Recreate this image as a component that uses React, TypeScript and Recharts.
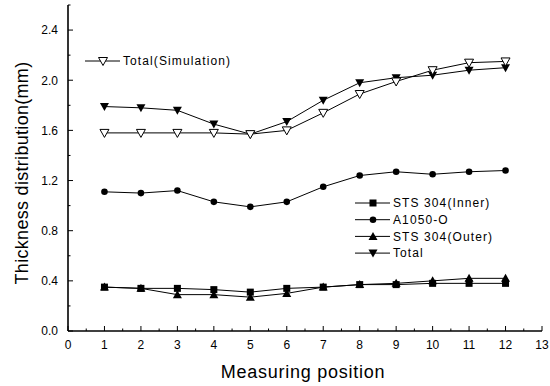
import React from 'react';
import { LineChart, Line, XAxis, YAxis } from 'recharts';

// measuring positions and thickness values (mm)
const positions = [1, 2, 3, 4, 5, 6, 7, 8, 9, 10, 11, 12];
const stsInner = [0.35, 0.34, 0.34, 0.33, 0.31, 0.34, 0.35, 0.37, 0.37, 0.38, 0.38, 0.38];
const a1050 = [1.11, 1.1, 1.12, 1.03, 0.99, 1.03, 1.15, 1.24, 1.27, 1.25, 1.27, 1.28];
const stsOuter = [0.35, 0.34, 0.29, 0.29, 0.27, 0.3, 0.35, 0.37, 0.38, 0.4, 0.42, 0.42];
const total = [1.79, 1.78, 1.76, 1.65, 1.57, 1.67, 1.84, 1.98, 2.02, 2.04, 2.08, 2.1];
const totalSim = [1.58, 1.58, 1.58, 1.58, 1.57, 1.6, 1.74, 1.89, 1.99, 2.08, 2.14, 2.15];

const xTicks = [0, 0.5, 1, 1.5, 2, 2.5, 3, 3.5, 4, 4.5, 5, 5.5, 6, 6.5, 7, 7.5, 8, 8.5, 9, 9.5, 10, 10.5, 11, 11.5, 12, 12.5, 13];
const yTicks = [0, 0.2, 0.4, 0.6, 0.8, 1.0, 1.2, 1.4, 1.6, 1.8, 2.0, 2.2, 2.4, 2.6];

const xTitle = 'Measuring position';
const yTitle = 'Thickness distribution(mm)';

const FONT = '"Liberation Sans", Arial, sans-serif';

type MarkerKind = 'square' | 'circle' | 'up' | 'down' | 'openDown';

const series: { key: string; name: string; values: number[]; marker: MarkerKind }[] = [
  { key: 'inner', name: 'STS 304(Inner)', values: stsInner, marker: 'square' },
  { key: 'a1050', name: 'A1050-O', values: a1050, marker: 'circle' },
  { key: 'outer', name: 'STS 304(Outer)', values: stsOuter, marker: 'up' },
  { key: 'total', name: 'Total', values: total, marker: 'down' },
  { key: 'sim', name: 'Total(Simulation)', values: totalSim, marker: 'openDown' },
];

const data = positions.map((p, i) => {
  const row: Record<string, number> = { pos: p };
  series.forEach((s) => {
    row[s.key] = s.values[i];
  });
  return row;
});

function Marker({ kind, cx, cy }: { kind: MarkerKind; cx: number; cy: number }) {
  if (kind === 'square') {
    return <rect x={cx - 3.5} y={cy - 3.5} width={7} height={7} fill="#000" />;
  }
  if (kind === 'circle') {
    return <circle cx={cx} cy={cy} r={3.3} fill="#000" />;
  }
  if (kind === 'up') {
    return (
      <polygon
        points={`${cx},${cy - 4.5} ${cx - 4.5},${cy + 3.5} ${cx + 4.5},${cy + 3.5}`}
        fill="#000"
      />
    );
  }
  if (kind === 'down') {
    return (
      <polygon
        points={`${cx - 4.5},${cy - 3.5} ${cx + 4.5},${cy - 3.5} ${cx},${cy + 4.5}`}
        fill="#000"
      />
    );
  }
  return (
    <polygon
      points={`${cx - 4.5},${cy - 3.5} ${cx + 4.5},${cy - 3.5} ${cx},${cy + 4.5}`}
      fill="#fff"
      stroke="#000"
      strokeWidth={1}
    />
  );
}

function XTick(props: any) {
  const { x, y, payload } = props;
  const v = payload.value as number;
  const major = Number.isInteger(v);
  return (
    <g>
      <line x1={x} x2={x} y1={y} y2={y - (major ? 5 : 2.5)} stroke="#000" />
      {major && (
        <text x={x} y={y + 17.5} textAnchor="middle" fontSize={12} fontFamily={FONT} fill="#000">
          {v}
        </text>
      )}
    </g>
  );
}

function YTick(props: any) {
  const { x, y, payload } = props;
  const v = payload.value as number;
  const major = Math.round(v * 10) % 4 === 0;
  return (
    <g>
      <line x1={x} x2={x + (major ? 5 : 2.5)} y1={y} y2={y} stroke="#000" />
      {major && (
        <text x={x - 10} y={y + 4.3} textAnchor="end" fontSize={12} fontFamily={FONT} fill="#000">
          {v.toFixed(1)}
        </text>
      )}
    </g>
  );
}

function LegendRow({ name, marker, x, y }: { name: string; marker: MarkerKind; x: number; y: number }) {
  return (
    <g>
      <line x1={x} x2={x + 35} y1={y} y2={y} stroke="#000" />
      <Marker kind={marker} cx={x + 18} cy={y} />
      <text x={x + 38} y={y + 4.3} fontSize={12} letterSpacing={1.1} fontFamily={FONT} fill="#000">
        {name}
      </text>
    </g>
  );
}

export default function App() {
  const sim = series[4];
  const lower = series.slice(0, 4);
  return (
    <div style={{ position: 'absolute', left: 0, top: 0, width: 550, height: 386, background: '#fff' }}>
      <LineChart
        width={550}
        height={386}
        data={data}
        margin={{ top: 5, right: 8, left: 8, bottom: 15 }}
      >
        <XAxis
          dataKey="pos"
          type="number"
          domain={[0, 13]}
          ticks={xTicks}
          interval={0}
          height={40}
          tickSize={0}
          tickMargin={0}
          tickLine={false}
          axisLine={{ stroke: '#000', strokeWidth: 1.6 }}
          tick={(p: any) => <XTick {...p} />}
          label={{
            value: xTitle,
            content: () => (
              <text x={303} y={378} textAnchor="middle" fontSize={18} letterSpacing={0.75} fontFamily={FONT} fill="#000">
                {xTitle}
              </text>
            ),
          }}
        />
        <XAxis xAxisId="top" orientation="top" type="number" domain={[0, 13]} height={0} tick={false} tickLine={false} axisLine={{ stroke: '#000', strokeWidth: 1.4 }} />
        <YAxis
          type="number"
          domain={[0, 2.6]}
          ticks={yTicks}
          interval={0}
          width={60}
          tickSize={0}
          tickMargin={0}
          tickLine={false}
          axisLine={{ stroke: '#000', strokeWidth: 1.6 }}
          tick={(p: any) => <YTick {...p} />}
          label={{
            value: yTitle,
            content: () => (
              <text
                x={28}
                y={173}
                transform="rotate(-90, 28, 173)"
                textAnchor="middle"
                fontSize={18}
                letterSpacing={0.3}
                fontFamily={FONT}
                fill="#000"
              >
                {yTitle}
              </text>
            ),
          }}
        />
        <YAxis yAxisId="right" orientation="right" type="number" domain={[0, 2.6]} width={0} tick={false} tickLine={false} axisLine={{ stroke: '#000', strokeWidth: 1.4 }} />
        {series.map((s) => (
          <Line
            key={s.key}
            type="linear"
            dataKey={s.key}
            name={s.name}
            stroke="#000"
            strokeWidth={1}
            isAnimationActive={false}
            activeDot={false}
            dot={(p: any) => <Marker key={`${s.key}-${p.index}`} kind={s.marker} cx={p.cx} cy={p.cy} />}
          />
        ))}
      </LineChart>
      <svg width={550} height={386} style={{ position: 'absolute', left: 0, top: 0, pointerEvents: 'none' }}>
        <LegendRow name={sim.name} marker={sim.marker} x={85} y={61} />
        {lower.map((s, i) => (
          <LegendRow key={s.key} name={s.name} marker={s.marker} x={355} y={203 + i * 16.7} />
        ))}
      </svg>
    </div>
  );
}
